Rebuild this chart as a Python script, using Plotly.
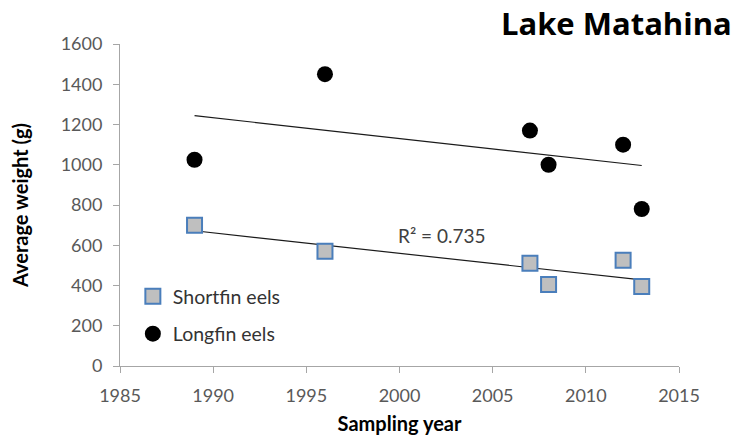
import numpy as np
import plotly.graph_objects as go

# Sampling years and average eel weights (g)
years = [1989, 1996, 2007, 2008, 2012, 2013]
shortfin_weight = [700, 570, 510, 405, 525, 395]
longfin_weight = [1025, 1450, 1170, 1000, 1100, 780]

x_ticks = [1985, 1990, 1995, 2000, 2005, 2010, 2015]
y_ticks = [0, 200, 400, 600, 800, 1000, 1200, 1400, 1600]

FONT = "Lato"
TICK_GREY = "#595959"
AXIS_GREY = "#a6a6a6"


def linear_fit(x, y):
    x = np.asarray(x, dtype=float)
    y = np.asarray(y, dtype=float)
    slope, intercept = np.polyfit(x, y, 1)
    xs = np.array([x.min(), x.max()])
    return xs, slope * xs + intercept


fig = go.Figure()

# Least-squares trend lines over the sampled range
for w in (shortfin_weight, longfin_weight):
    tx, ty = linear_fit(years, w)
    fig.add_trace(go.Scatter(
        x=tx, y=ty, mode="lines", showlegend=False, hoverinfo="skip",
        line=dict(color="#1a1a1a", width=1.2),
    ))

fig.add_trace(go.Scatter(
    x=years, y=shortfin_weight, mode="markers", name="Shortfin eels",
    legendgroup="s",
    marker=dict(symbol="square", size=15, color="#bfbfbf",
                line=dict(color="#4a7ebb", width=2)),
))
fig.add_trace(go.Scatter(
    x=years, y=longfin_weight, mode="markers", name="Longfin eels",
    legendgroup="l",
    marker=dict(symbol="circle", size=16, color="#000000",
                line=dict(width=0)),
))

fig.add_annotation(
    x=2002.3, y=646, xref="x", yref="y", text="R² = 0.735", showarrow=False,
    font=dict(family=FONT, size=19, color="#404040"),
)

axis_common = dict(
    showline=True, linecolor=AXIS_GREY, linewidth=1,
    ticks="outside", ticklen=6, tickcolor=AXIS_GREY, tickwidth=1,
    showgrid=False, zeroline=False, ticklabelstandoff=7, automargin=False,
    tickfont=dict(family=FONT, size=18, color=TICK_GREY),
)

fig.update_xaxes(
    range=[x_ticks[0], x_ticks[-1]], tickvals=x_ticks,
    title=dict(text="<b>Sampling year</b>", standoff=12,
               font=dict(family=FONT, size=20, color="#000000")),
    **axis_common,
)
fig.update_yaxes(
    range=[y_ticks[0], y_ticks[-1]], tickvals=y_ticks,
    title=dict(text="<b>Average weight (g)</b>", standoff=26,
               font=dict(family=FONT, size=20, color="#000000")),
    **axis_common,
)

fig.update_layout(
    width=734, height=437,
    margin=dict(l=120, r=55, t=44, b=71),
    paper_bgcolor="white", plot_bgcolor="white",
    title=dict(text="<b>Lake Matahina</b>", x=0.997, xanchor="right",
               y=0.945, yanchor="middle",
               font=dict(family="Open Sans", size=31, color="#000000")),
    legend=dict(x=0.023, y=0.276, xanchor="left", yanchor="top",
                traceorder="grouped", tracegroupgap=9,
                bgcolor="rgba(0,0,0,0)",
                font=dict(family=FONT, size=19.5, color="#333333")),
)

fig.write_html("out.html")
